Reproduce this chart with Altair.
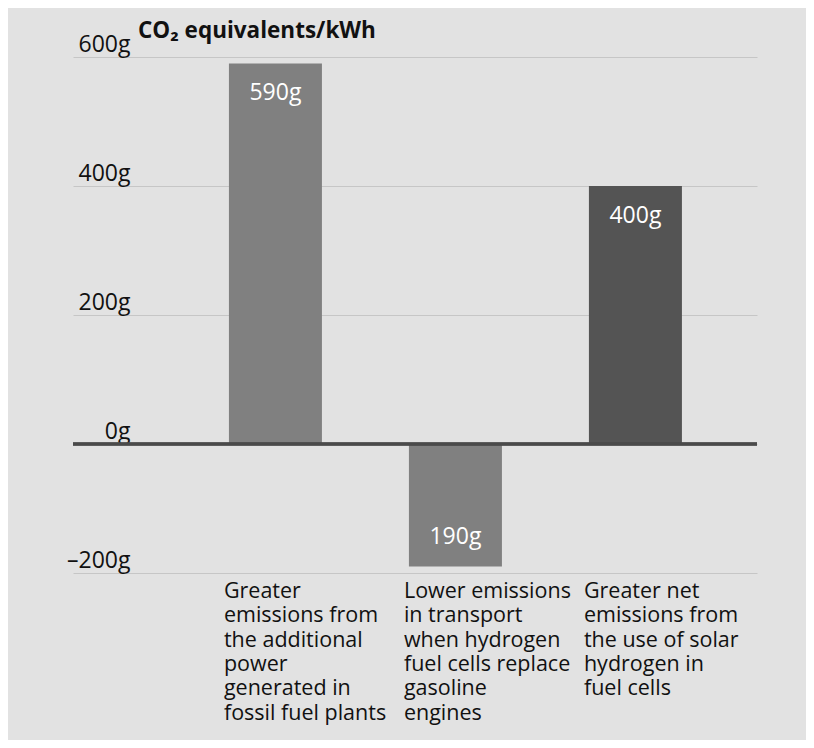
import altair as alt

categories = ["power", "transport", "solar"]
label_lines = [
    ["Greater", "emissions from", "the additional", "power", "generated in", "fossil fuel plants"],
    ["Lower emissions", "in transport", "when hydrogen", "fuel cells replace", "gasoline", "engines"],
    ["Greater net", "emissions from", "the use of solar", "hydrogen in", "fuel cells"],
]
values = [590, -190, 400]
value_labels = ["590g", "190g", "400g"]
bar_colors = ["#808080", "#808080", "#545454"]
y_ticks = [-200, 0, 200, 400, 600]
title_text = "CO\u2082 equivalents/kWh"

records = [
    {"cat": c, "value": v, "vlabel": l, "lines": ln}
    for c, v, l, ln in zip(categories, values, value_labels, label_lines)
]
data = alt.Data(values=records)

FONT = "Open Sans"

x_scale = alt.Scale(paddingInner=0.4833, paddingOuter=0.6417, align=0.675)
x_enc = alt.X("cat:N", sort=categories, scale=x_scale, axis=None)
y_scale = alt.Scale(domain=[-200, 600], nice=False)

base = alt.Chart(data)

bars = base.mark_bar().encode(
    x=x_enc,
    y=alt.Y(
        "value:Q",
        scale=y_scale,
        title=None,
        axis=alt.Axis(
            values=y_ticks,
            domain=False,
            ticks=False,
            grid=True,
            gridColor="#c6c6c6",
            gridWidth=1,
            labelAlign="right",
            labelBaseline="alphabetic",
            labelPadding=-57,
            labelOffset=-6,
            labelFlush=False,
            labelOverlap=False,
            labelFont=FONT,
            labelFontSize=23,
            labelColor="#111111",
            labelExpr="datum.value < 0 ? '\u2013' + abs(datum.value) + 'g' : datum.value + 'g'",
        ),
    ),
    color=alt.Color("cat:N", scale=alt.Scale(domain=categories, range=bar_colors), legend=None),
)

zero_rule = base.mark_rule(color="#4a4a4a", strokeWidth=3).encode(y=alt.datum(0))

pos_text = base.transform_filter("datum.value > 0").mark_text(
    dy=30, baseline="middle", color="white", fontSize=23, font=FONT
).encode(x=x_enc, y=alt.Y("value:Q", scale=y_scale), text="vlabel:N")

neg_text = base.transform_filter("datum.value < 0").mark_text(
    dy=-30, baseline="middle", color="white", fontSize=23, font=FONT
).encode(x=x_enc, y=alt.Y("value:Q", scale=y_scale), text="vlabel:N")

cat_text = base.mark_text(
    align="left", baseline="top", dx=-5, dy=8, lineHeight=24.3,
    fontSize=21.5, font=FONT, color="#111111"
).encode(
    x=alt.X("cat:N", sort=categories, bandPosition=0, scale=x_scale, axis=None),
    y=alt.datum(-200),
    text=alt.Text("lines:N"),
)

title_mark = alt.Chart(alt.Data(values=[{"t": title_text}])).mark_text(
    align="left", baseline="alphabetic", fontSize=22.5, fontWeight="bold",
    font=FONT, color="#111111"
).encode(x=alt.value(65), y=alt.value(-19), text="t:N")

chart = alt.layer(bars, zero_rule, pos_text, neg_text, cat_text, title_mark).properties(
    width=684,
    height=516,
    autosize=alt.AutoSizeParams(type="none"),
    padding={"left": 65, "top": 49, "right": 49, "bottom": 167},
    background="#e2e2e2",
).configure_view(stroke=None)

chart.save("out.html", embed_options={"renderer": "svg", "actions": False})
